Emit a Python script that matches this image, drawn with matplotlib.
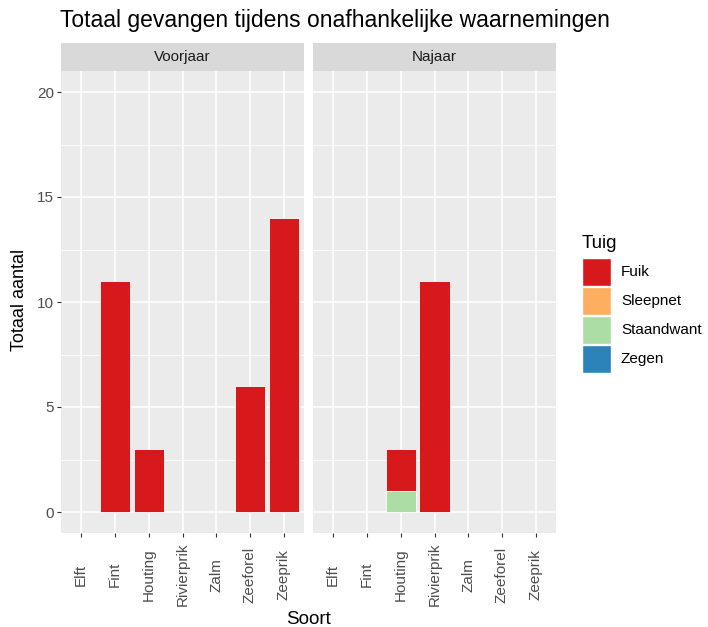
import matplotlib
matplotlib.use('Agg')
import matplotlib.pyplot as plt
from matplotlib.patches import Patch
import numpy as np

plt.rcParams['font.family'] = ['Liberation Sans', 'DejaVu Sans']

PANEL, STRIP, GRID = '#EBEBEB', '#D9D9D9', '#FFFFFF'
TICK, TICKLAB, INK = '#333333', '#4D4D4D', '#000000'

soorten = ['Elft', 'Fint', 'Houting', 'Rivierprik', 'Zalm', 'Zeeforel', 'Zeeprik']
seizoenen = ['Voorjaar', 'Najaar']
tuigen = ['Fuik', 'Sleepnet', 'Staandwant', 'Zegen']
kleuren = ['#D7191C', '#FDAE61', '#ABDDA4', '#2B83BA']

# counts per gear, per season, per species
voorjaar = {
    'Fuik':       [0, 11, 3, 0, 0, 6, 14],
    'Sleepnet':   [0, 0, 0, 0, 0, 0, 0],
    'Staandwant': [0, 0, 0, 0, 0, 0, 0],
    'Zegen':      [0, 0, 0, 0, 0, 0, 0],
}
najaar = {
    'Fuik':       [0, 0, 2, 11, 0, 0, 0],
    'Sleepnet':   [0, 0, 0, 0, 0, 0, 0],
    'Staandwant': [0, 0, 1, 0, 0, 0, 0],
    'Zegen':      [0, 0, 0, 0, 0, 0, 0],
}
data = [voorjaar, najaar]

W, H = 708, 627
fig = plt.figure(figsize=(W / 100, H / 100), dpi=100)

def fx(px): return px / W
def fy(px): return 1 - px / H

panel_left = [61, 313]
panel_w = 243
top, bottom = 71, 533
strip_top = 43

x = np.arange(len(soorten))
for i, (left, seizoen, d) in enumerate(zip(panel_left, seizoenen, data)):
    ax = fig.add_axes([fx(left), fy(bottom), panel_w / W, (bottom - top) / H])
    ax.set_facecolor(PANEL)
    for s in ax.spines.values():
        s.set_visible(False)
    ax.set_xlim(-0.6, len(soorten) - 0.4)
    ax.set_ylim(-1, 21)
    ax.set_yticks([0, 5, 10, 15, 20])
    ax.set_yticks([2.5, 7.5, 12.5, 17.5], minor=True)
    ax.set_xticks(x)
    ax.grid(which='major', color=GRID, linewidth=1.1)
    ax.grid(which='minor', axis='y', color=GRID, linewidth=0.55)
    ax.set_axisbelow(True)
    ax.tick_params(which='minor', length=0)
    ax.tick_params(which='major', length=3, width=0.8, color=TICK,
                   labelcolor=TICKLAB, labelsize=11)
    ax.tick_params(axis='y', pad=2)
    # labels centred under their tick, as in ggplot's angle = 90
    ax.tick_params(axis='x', pad=27)
    ax.set_xticklabels(soorten, rotation=90, va='center')
    if i == 0:
        ax.set_yticklabels(['0', '5', '10', '15', '20'])
    else:
        ax.tick_params(axis='y', left=False, labelleft=False)

    # stack from the last gear upward so the first gear ends on top
    base = np.zeros(len(soorten))
    for tuig, kleur in reversed(list(zip(tuigen, kleuren))):
        vals = np.array(d[tuig], dtype=float)
        m = vals > 0
        if m.any():
            ax.bar(x[m], vals[m], bottom=base[m], width=0.9, color=kleur,
                   edgecolor='white', linewidth=0.6)
        base += vals

    # facet strip
    sax = fig.add_axes([fx(left), fy(top), panel_w / W, (top - strip_top) / H])
    sax.set_facecolor(STRIP)
    sax.set_xticks([]); sax.set_yticks([])
    for s in sax.spines.values():
        s.set_visible(False)
    sax.text(0.5, 0.5, seizoen, ha='center', va='center', fontsize=11,
             color='#1A1A1A', transform=sax.transAxes)

fig.text(fx(60), fy(21), 'Totaal gevangen tijdens onafhankelijke waarnemingen',
         fontsize=16.5, color=INK, ha='left', va='center')
fig.text(fx(20), fy(300), 'Totaal aantal', fontsize=13, color=INK,
         rotation=90, ha='center', va='center')
fig.text(fx(308), fy(619), 'Soort', fontsize=13.5, color=INK,
         ha='center', va='center')

handles = [Patch(facecolor=k, edgecolor='white', linewidth=1, label=t)
           for t, k in zip(tuigen, kleuren)]
leg = fig.legend(handles=handles, title='Tuig', loc='upper left',
                 bbox_to_anchor=(fx(582), fy(235)), frameon=False,
                 fontsize=11, title_fontsize=13.5, handlelength=1.9,
                 handleheight=2.44, labelspacing=0.07, handletextpad=0.65,
                 borderaxespad=0, borderpad=0)
leg._legend_box.align = 'left'
leg._legend_box.sep = 4

fig.savefig('out.png', dpi=100)
